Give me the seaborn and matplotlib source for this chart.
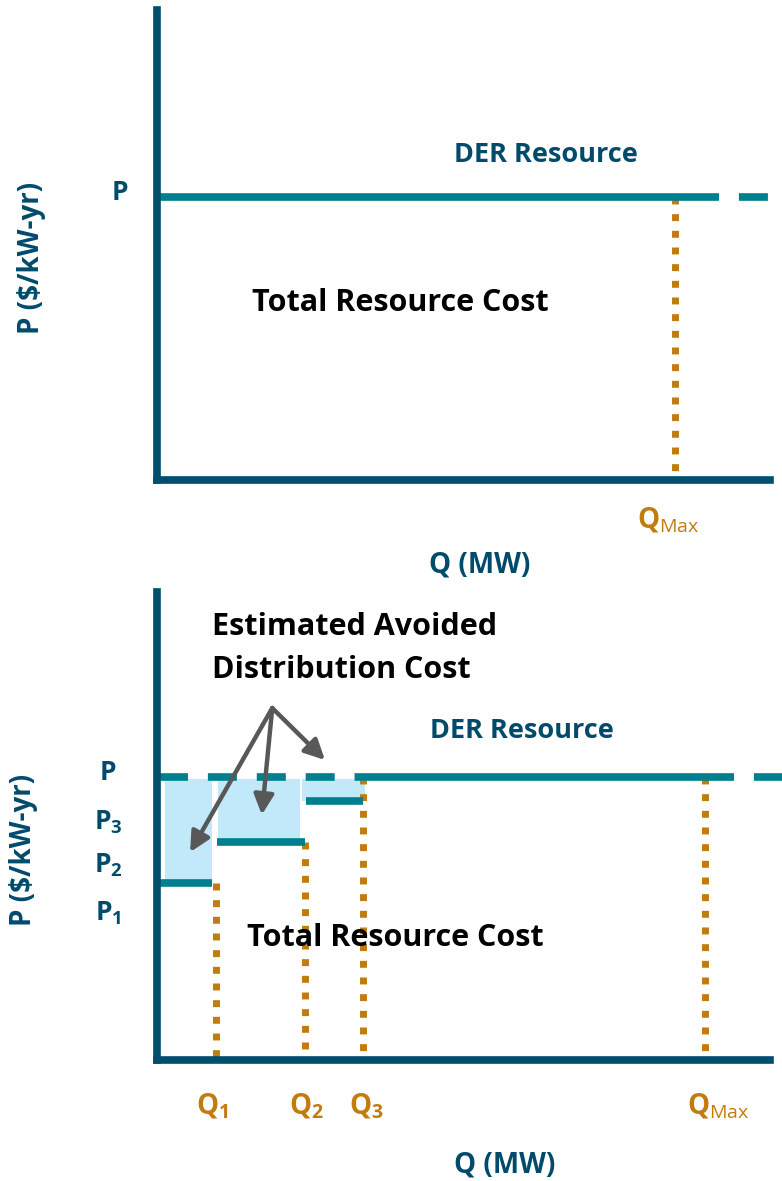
import matplotlib
matplotlib.use("Agg")
import matplotlib.pyplot as plt
import seaborn as sns
import numpy as np

sns.set_theme(style="white")
FONT = 'Open Sans'
plt.rcParams['font.family'] = [FONT, 'DejaVu Sans']
plt.rcParams['mathtext.fontset'] = 'custom'
plt.rcParams['mathtext.rm'] = FONT
plt.rcParams['mathtext.bf'] = FONT + ':bold'
plt.rcParams['mathtext.it'] = FONT + ':italic'

# ---------------- data ----------------
top_P = 60.2
top_Qmax = 84.5
bot_P = 60.5
step_Q = [9.6, 24.1, 33.6]          # Q1, Q2, Q3
step_P = [37.8, 46.6, 55.3]         # P1, P2, P3
bot_Qmax = 89.4
q_labels = [r'$\mathbf{Q}_{\mathbf{1}}$', r'$\mathbf{Q}_{\mathbf{2}}$', r'$\mathbf{Q}_{\mathbf{3}}$']
p_labels = [r'$\mathbf{P}_{\mathbf{1}}$', r'$\mathbf{P}_{\mathbf{2}}$', r'$\mathbf{P}_{\mathbf{3}}$']
qmax_label = r'$\mathbf{Q}_{\mathrm{Max}}$'

AXIS = '#004E6E'
TEAL = '#007F8E'
ORANGE = '#C27C0E'
TXT = '#004B6B'
FILL = '#C2E9F9'
ARROW = '#585858'

W, H = 782, 1181
fig = plt.figure(figsize=(W / 100, H / 100), dpi=100)

def fx(x):
    return x / W

def fy(y):
    return 1 - y / H

def make_ax(top, bottom):
    ax = fig.add_axes([fx(157), fy(bottom), (770 - 157) / W, (bottom - top) / H])
    ax.set_xlim(0, 100)
    ax.set_ylim(0, 100)
    ax.set_xticks([])
    ax.set_yticks([])
    ax.patch.set_alpha(0)
    for s in ['top', 'right']:
        ax.spines[s].set_visible(False)
    for s in ['left', 'bottom']:
        ax.spines[s].set_color(AXIS)
        ax.spines[s].set_linewidth(5.5)
        ax.spines[s].set_capstyle('projecting')
        ax.spines[s].set_zorder(5)
    return ax

dot_style = dict(color=ORANGE, lw=5, linestyle=(0, (1.0, 1.4)),
                 dash_capstyle='butt', clip_on=False, zorder=3)
dash_style = dict(color=TEAL, lw=5.5, linestyle=(0, (3.8, 2.6)),
                  dash_capstyle='butt', clip_on=False, zorder=4)
solid_style = dict(color=TEAL, lw=5.5, solid_capstyle='butt', clip_on=False, zorder=4)

BIG = 22      # black titles
LAB = 20      # axis labels
DER = 19.5
PL = 19       # P labels
QL = 20       # Q labels

# ---------------- top chart ----------------
ax1 = make_ax(10, 480)
sns.lineplot(x=[0, top_Qmax + 2.5], y=[top_P, top_P], ax=ax1, **solid_style)
ax1.plot([top_Qmax + 2.5, 102], [top_P, top_P], **dash_style)
ax1.plot([top_Qmax, top_Qmax], [top_P, 1], **dot_style)

fig.text(fx(120), fy(192), 'P', color=TXT, fontsize=PL, fontweight='bold',
         ha='center', va='center')
fig.text(fx(546), fy(155), 'DER Resource', color=TXT, fontsize=DER,
         fontweight='bold', ha='center', va='center')
fig.text(fx(400), fy(303), 'Total Resource Cost', color='black', fontsize=BIG,
         fontweight='bold', ha='center', va='center')
fig.text(fx(32), fy(258), 'P ($/kW-yr)', color=TXT, fontsize=LAB,
         fontweight='bold', ha='center', va='center', rotation=90)
fig.text(fx(668), fy(520), qmax_label, color=ORANGE, fontsize=QL,
         ha='center', va='center')
fig.text(fx(480), fy(565), 'Q (MW)', color=TXT, fontsize=LAB,
         fontweight='bold', ha='center', va='center')

# ---------------- bottom chart ----------------
ax2 = make_ax(592, 1060)
q_left = [0.0] + step_Q[:-1]
fill_x0 = [1.3, 10.0, 23.7]
fill_x1 = [9.0, 23.3, 34.0]
for i in range(3):
    ax2.fill_between([fill_x0[i], fill_x1[i]], [step_P[i]] * 2, [bot_P - 0.5] * 2,
                     color=FILL, lw=0, zorder=1)
    ax2.plot([q_left[i] - (0.4 if i == 0 else -0.2), step_Q[i] - (0.6 if i == 0 else 0)],
             [step_P[i], step_P[i]], **solid_style)
    ax2.plot([step_Q[i], step_Q[i]], [step_P[i] if i < 2 else bot_P, -1.2 if i == 0 else 0],
             **dot_style)
ax2.plot([0.3, step_Q[2]], [bot_P, bot_P], **dash_style)
sns.lineplot(x=[step_Q[2], bot_Qmax], y=[bot_P, bot_P], ax=ax2, **solid_style)
ax2.plot([bot_Qmax, bot_Qmax], [bot_P, 1], **dot_style)
ax2.plot([bot_Qmax, 102], [bot_P, bot_P], **dash_style)

origin = (18.8, 75.2)
targets = [(5.4, 44.4), (17.1, 52.4), (27.4, 64.1)]
for t in targets:
    ax2.annotate('', xy=t, xytext=origin, xycoords='data',
                 arrowprops=dict(arrowstyle='-|>,head_length=1.0,head_width=0.5',
                                 color=ARROW, lw=3.2, shrinkA=0, shrinkB=0),
                 zorder=6, annotation_clip=False)

fig.text(fx(212), fy(627), 'Estimated Avoided', color='black', fontsize=BIG,
         fontweight='bold', ha='left', va='center')
fig.text(fx(212), fy(670), 'Distribution Cost', color='black', fontsize=BIG,
         fontweight='bold', ha='left', va='center')
fig.text(fx(522), fy(731), 'DER Resource', color=TXT, fontsize=DER,
         fontweight='bold', ha='center', va='center')
fig.text(fx(395), fy(938), 'Total Resource Cost', color='black', fontsize=BIG,
         fontweight='bold', ha='center', va='center')
fig.text(fx(24), fy(850), 'P ($/kW-yr)', color=TXT, fontsize=LAB,
         fontweight='bold', ha='center', va='center', rotation=90)

fig.text(fx(108), fy(773), 'P', color=TXT, fontsize=PL, fontweight='bold',
         ha='center', va='center')
p_label_y = [913, 865, 822]
for lab, yy in zip(p_labels, p_label_y):
    fig.text(fx(108), fy(yy), lab, color=TXT, fontsize=PL, ha='center', va='center')

q_label_x = [212, 306, 366]
for lab, xx in zip(q_labels, q_label_x):
    fig.text(fx(xx), fy(1106), lab, color=ORANGE, fontsize=QL, ha='center', va='center')
fig.text(fx(718), fy(1106), qmax_label, color=ORANGE, fontsize=QL,
         ha='center', va='center')
fig.text(fx(505), fy(1165), 'Q (MW)', color=TXT, fontsize=LAB,
         fontweight='bold', ha='center', va='center')

fig.savefig('out.png', dpi=100)
